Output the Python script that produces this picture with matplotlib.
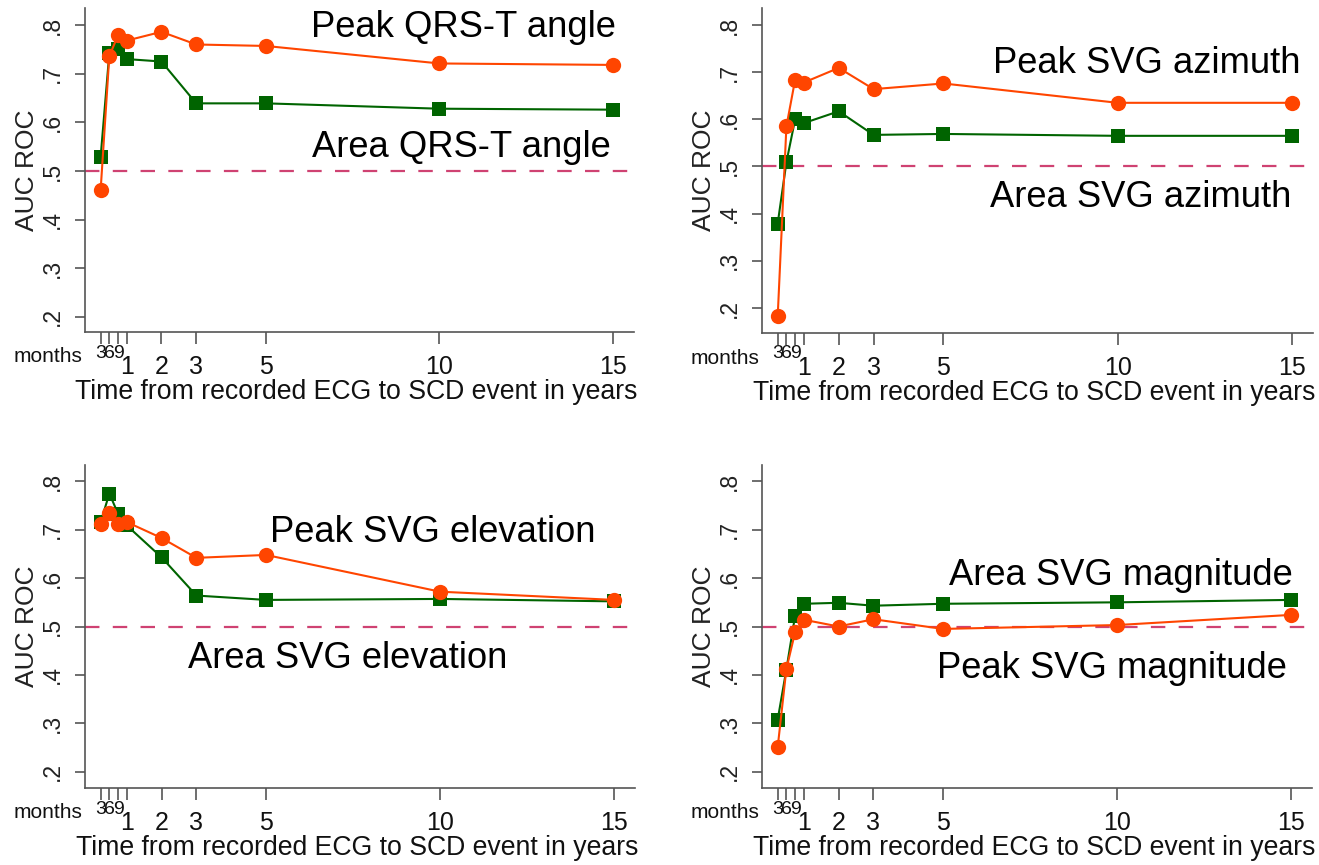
import matplotlib
matplotlib.use('Agg')
import matplotlib.pyplot as plt

plt.rcParams['font.family'] = ['Liberation Sans', 'DejaVu Sans']

# time from ECG to event, in years (3, 6, 9 months then yearly)
years = [0.25, 0.5, 0.75, 1, 2, 3, 5, 10, 15]
month_ticks = [0.25, 0.5, 0.75]
month_labels = ['3', '6', '9']
year_ticks = [1, 2, 3, 5, 10, 15]
year_labels = ['1', '2', '3', '5', '10', '15']
auc_ticks = [0.2, 0.3, 0.4, 0.5, 0.6, 0.7, 0.8]
auc_labels = ['.2', '.3', '.4', '.5', '.6', '.7', '.8']

qrst_peak = [0.461, 0.736, 0.779, 0.768, 0.786, 0.760, 0.757, 0.721, 0.718]
qrst_area = [0.529, 0.742, 0.750, 0.730, 0.725, 0.639, 0.639, 0.628, 0.626]

azim_peak = [0.182, 0.585, 0.684, 0.678, 0.709, 0.664, 0.676, 0.635, 0.635]
azim_area = [0.379, 0.509, 0.600, 0.592, 0.617, 0.567, 0.569, 0.565, 0.565]

elev_peak = [0.712, 0.734, 0.712, 0.716, 0.683, 0.642, 0.648, 0.572, 0.555]
elev_area = [0.716, 0.775, 0.733, 0.709, 0.643, 0.564, 0.555, 0.557, 0.552]

magn_peak = [0.250, 0.412, 0.488, 0.514, 0.500, 0.515, 0.495, 0.503, 0.524]
magn_area = [0.307, 0.411, 0.522, 0.547, 0.549, 0.543, 0.547, 0.550, 0.555]

ORANGE = '#ff4500'
GREEN = '#006400'
REF = '#cf4272'
AXIS = '#555555'

W, H = 1319, 865
fig = plt.figure(figsize=(W / 100, H / 100), dpi=100)


def make_axes(left, top, right, bottom):
    return fig.add_axes([left / W, 1 - bottom / H, (right - left) / W, (bottom - top) / H])


panels = [
    # axes box (px), ylim, peak series, area series, label texts and spots
    dict(box=(85, 8, 634, 332), ylim=(0.169, 0.835), peak=qrst_peak, area=qrst_area,
         peak_txt=('Peak QRS-T angle', 0.690, 0.910),
         area_txt=('Area QRS-T angle', 0.685, 0.540)),
    dict(box=(762, 8, 1313, 333), ylim=(0.147, 0.836), peak=azim_peak, area=azim_area,
         peak_txt=('Peak SVG azimuth', 0.699, 0.799),
         area_txt=('Area SVG azimuth', 0.688, 0.389)),
    dict(box=(85, 465, 635, 788), ylim=(0.166, 0.834), peak=elev_peak, area=elev_area,
         peak_txt=('Peak SVG elevation', 0.632, 0.763),
         area_txt=('Area SVG elevation', 0.477, 0.372)),
    dict(box=(762, 465, 1312, 788), ylim=(0.166, 0.834), peak=magn_peak, area=magn_area,
         peak_txt=('Peak SVG magnitude', 0.636, 0.341),
         area_txt=('Area SVG magnitude', 0.653, 0.628)),
]

for p in panels:
    ax = make_axes(*p['box'])
    ax.set_xlim(-0.2, 15.6)
    ax.set_ylim(*p['ylim'])

    ax.axhline(0.5, color=REF, lw=1.6, ls=(0, (6.5, 6)), zorder=1)
    ax.plot(years, p['area'], color=GREEN, lw=1.5, marker='s', ms=10.5,
            markeredgewidth=0, zorder=2)
    ax.plot(years, p['peak'], color=ORANGE, lw=1.5, marker='o', ms=11,
            markeredgewidth=0, zorder=3)

    for spine in ('top', 'right'):
        ax.spines[spine].set_visible(False)
    for spine in ('left', 'bottom'):
        ax.spines[spine].set_color(AXIS)
        ax.spines[spine].set_linewidth(1.2)

    ax.set_xticks(year_ticks)
    ax.set_xticklabels(year_labels)
    ax.set_xticks(month_ticks, minor=True)
    ax.set_xticklabels(month_labels, minor=True)
    ax.tick_params(axis='x', which='both', direction='out', length=8.5, width=1.2,
                   color=AXIS)
    ax.tick_params(axis='x', which='major', labelsize=18, pad=8, labelcolor='#111111')
    ax.tick_params(axis='x', which='minor', labelsize=14, pad=0.5, labelcolor='#111111')

    ax.set_yticks(auc_ticks)
    ax.set_yticklabels(auc_labels)
    ax.tick_params(axis='y', direction='out', length=7, width=1.2, color=AXIS,
                   labelsize=16.5, pad=8, labelcolor='#222222', labelrotation=90)
    for lbl in ax.get_yticklabels():
        lbl.set_verticalalignment('center')

    ax.set_ylabel('AUC ROC', fontsize=19, color='#222222')
    ax.yaxis.set_label_coords(-0.083, 0.5)
    ax.set_xlabel('Time from recorded ECG to SCD event in years', fontsize=19.2,
                  color='#111111')
    ax.xaxis.set_label_coords(0.494, -0.146)

    ax.text(-0.005, -0.094, 'months', transform=ax.transAxes, ha='right',
            va='baseline', fontsize=15, color='#111111')

    for txt, x, y in (p['peak_txt'], p['area_txt']):
        ax.text(x, y, txt, transform=ax.transAxes, ha='center', va='baseline',
                fontsize=26.2, color='black')

fig.savefig('out.png', dpi=100)
